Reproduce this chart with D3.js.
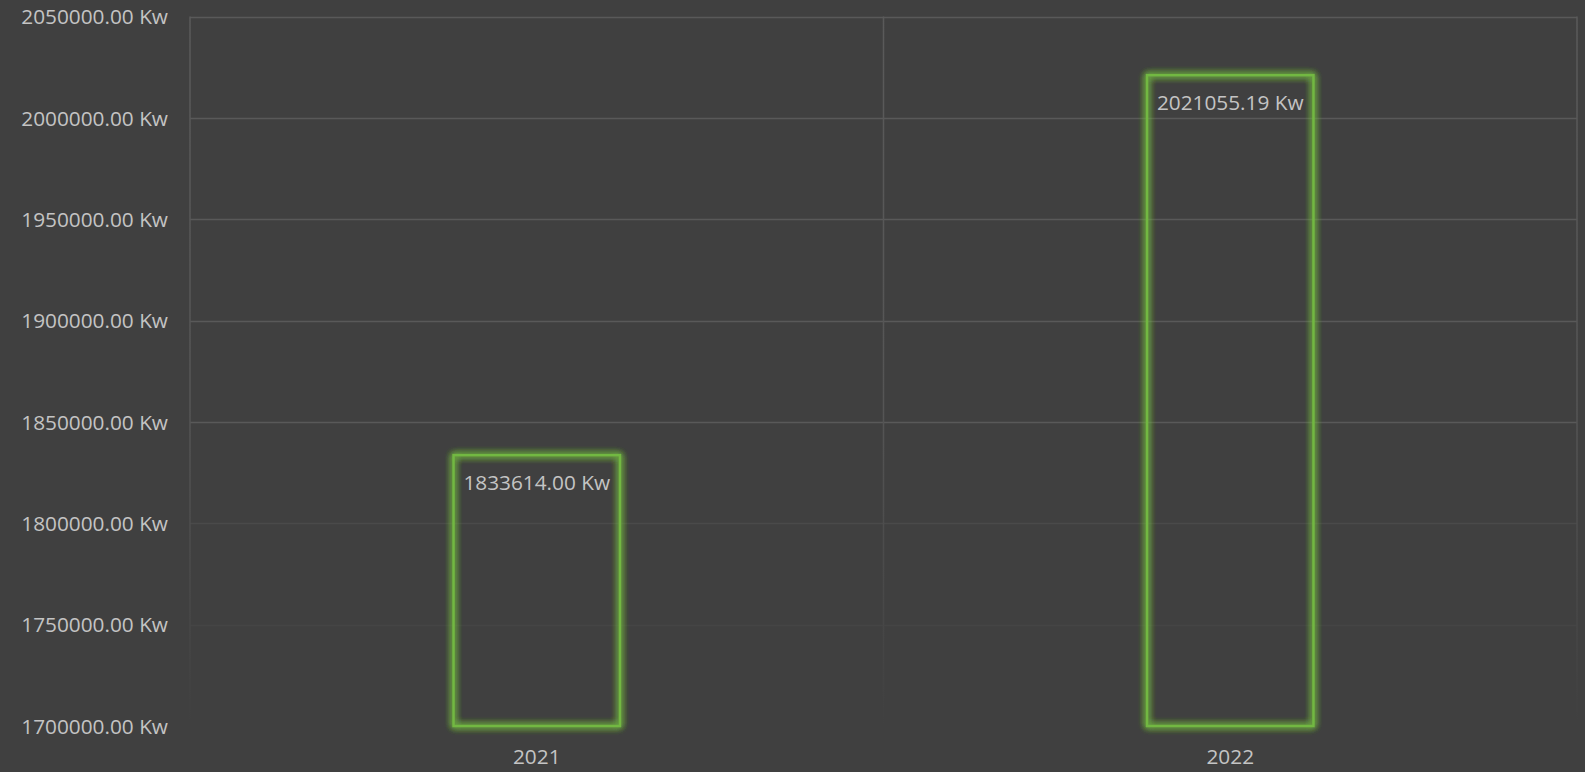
<!DOCTYPE html>
<html><head><meta charset="utf-8">
<script src="https://cdn.jsdelivr.net/npm/d3@7"></script>
<style>
html,body{margin:0;padding:0;background:#404040;}
svg{display:block;}
</style></head>
<body>
<svg id="chart" width="1585" height="772"></svg>
<script>
const categories = ["2021", "2022"];
const values = [1833614.00, 2021055.19];
const yTicks = [1700000, 1750000, 1800000, 1850000, 1900000, 1950000, 2000000, 2050000];
const unit = "Kw";

const W = 1585, H = 772;
const m = {left: 190, right: 8, top: 16.5, bottom: 46};
const svg = d3.select("#chart");
svg.append("rect").attr("width", W).attr("height", H).attr("fill", "#404040");

const defs = svg.append("defs");
const grad = defs.append("linearGradient").attr("id", "fadeV")
  .attr("gradientUnits", "userSpaceOnUse").attr("x1", 0).attr("y1", m.top).attr("x2", 0).attr("y2", H - m.bottom);
grad.append("stop").attr("offset", 0).attr("stop-color", "#5a5a5a");
grad.append("stop").attr("offset", 0.55).attr("stop-color", "#555555");
grad.append("stop").attr("offset", 1).attr("stop-color", "#404040");

const glow = defs.append("filter").attr("id", "glow").attr("x", "-20%").attr("y", "-20%").attr("width", "140%").attr("height", "140%");
glow.append("feGaussianBlur").attr("in", "SourceGraphic").attr("stdDeviation", 3.5).attr("result", "b");
const fm = glow.append("feMerge");
fm.append("feMergeNode").attr("in", "b");
fm.append("feMergeNode").attr("in", "b");
fm.append("feMergeNode").attr("in", "b");
fm.append("feMergeNode").attr("in", "SourceGraphic");

const x = d3.scaleBand().domain(categories).range([m.left, W - m.right]).paddingInner(0).paddingOuter(0);
const y = d3.scaleLinear().domain([1700000, 2050000]).range([H - m.bottom, m.top]);

const g = svg.append("g");
yTicks.forEach(t => {
  if (t === 1700000) return;
  const yy = Math.round(y(t)) + 0.5;
  g.append("line").attr("x1", m.left).attr("x2", W - m.right).attr("y1", yy).attr("y2", yy)
    .attr("stroke", t >= 1850000 ? "#595959" : (t === 1800000 ? "#4a4a4a" : "#454545")).attr("stroke-width", 1.5);
});
const vlines = [m.left, x("2022"), W - m.right];
vlines.forEach(v => {
  g.append("rect").attr("x", v - 0.75).attr("y", m.top).attr("width", 1.5).attr("height", H - m.bottom - m.top)
    .attr("fill", "url(#fadeV)");
});

const font = "'Open Sans', 'Noto Sans', sans-serif";
const fs = 20.8;
const yAxis = d3.axisLeft(y).tickValues(yTicks).tickSize(0).tickPadding(0)
  .tickFormat(d => d3.format(".2f")(d) + " " + unit);
const ya = svg.append("g").attr("transform", `translate(168,0)`).call(yAxis);
ya.select(".domain").remove();
ya.selectAll("text").attr("fill", "#c4c4c4").attr("font-family", font).attr("font-size", fs).attr("dy", "0.35em");

const xAxis = d3.axisBottom(x).tickSize(0).tickPadding(0);
const xa = svg.append("g").attr("transform", `translate(0,${H - 15})`).call(xAxis);
xa.select(".domain").remove();
xa.selectAll("text").attr("fill", "#c4c4c4").attr("font-family", font).attr("font-size", fs).attr("dy", "0.35em");

const bw = x.bandwidth() * 0.24;
const bars = svg.append("g");
categories.forEach((c, i) => {
  const cx = x(c) + x.bandwidth() / 2;
  bars.append("rect").attr("x", cx - bw / 2).attr("y", y(values[i])).attr("width", bw)
    .attr("height", y(1700000) - y(values[i]))
    .attr("fill", "none").attr("stroke", "#72b842").attr("stroke-width", 2.5).attr("filter", "url(#glow)");
  bars.append("text").attr("x", cx).attr("y", y(values[i]) + 28).attr("dy", "0.35em")
    .attr("text-anchor", "middle").attr("fill", "#c4c4c4").attr("font-family", font).attr("font-size", fs)
    .text(d3.format(".2f")(values[i]) + " " + unit);
});
</script>
</body></html>
